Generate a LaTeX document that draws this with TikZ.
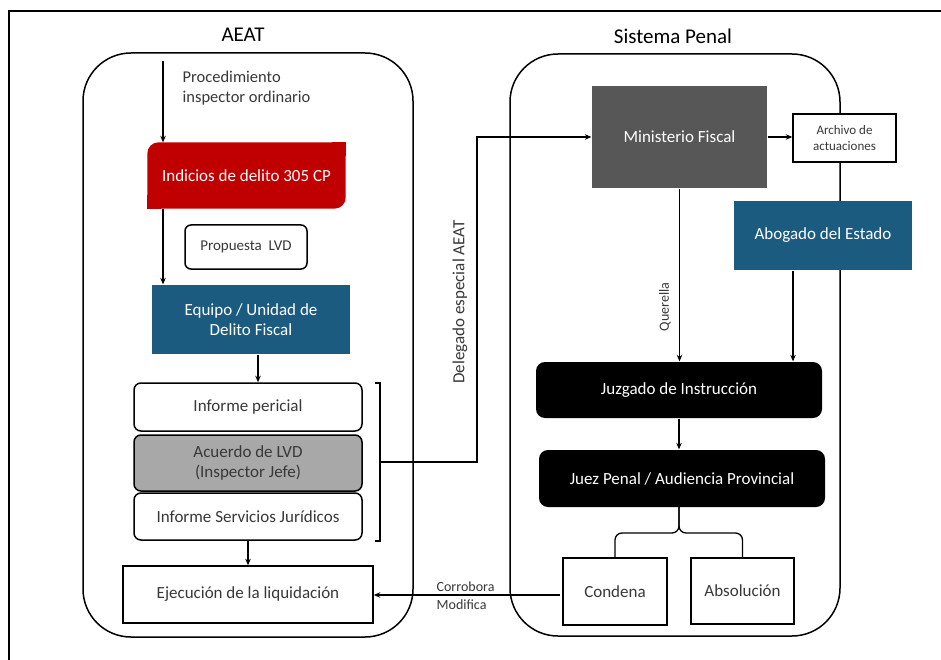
\documentclass[tikz,border=0pt]{standalone}
\usepackage{fontspec}
\setmainfont{Carlito}
\usetikzlibrary{arrows.meta,calc}
\definecolor{redbox}{HTML}{C00000}
\definecolor{bluebox}{HTML}{1B5B80}
\definecolor{darkbox}{HTML}{575757}
\definecolor{graybox}{HTML}{A8A8A8}
\definecolor{txt}{HTML}{383838}
\begin{document}
\begin{tikzpicture}[x=1pt,y=-1pt,
  line width=1.3pt,
  arr/.style={-{Stealth[length=6.5pt,width=5.5pt]}, line width=1.3pt},
  container/.style={draw, line width=1.5pt, rounded corners=48pt, minimum width=330pt},
  boxtext/.style={font=\fontsize{17}{20}\selectfont, align=center, inner sep=0pt},
  whitebox/.style={boxtext, draw, line width=1.5pt, fill=white, text=txt},
  title/.style={font=\fontsize{21}{24}\selectfont, text=black},
  small/.style={font=\fontsize{14}{17}\selectfont, text=txt}
]
\useasboundingbox (0,0) rectangle (941,660);
\fill[white] (0,0) rectangle (941,660);
% outer frame
\draw[line width=1.3pt] (9,660) -- (9,11) -- (941,11);

% containers
\node[container, minimum height=584pt] (aeat) at (248,345) {};
\node[container, minimum height=582pt] (penal) at (675,345) {};
\node[title] (taeat) at (243,35) {AEAT};
\node[title] (tpenal) at (673,36) {Sistema Penal};

% AEAT side
\coordinate (start) at (163,61);
\node[font=\fontsize{16.5}{20}\selectfont, text=txt, align=left, anchor=north west, inner sep=0pt] (proc) at (182,70) {Procedimiento\\inspector ordinario};
\node[inner sep=0pt, minimum width=197pt, minimum height=65pt] (ind) at (246.5,175.5) {};
\fill[redbox, rounded corners=11pt] (ind.north west) rectangle (ind.south east);
\fill[redbox] (ind.north east) rectangle ++(-14,14);
\fill[redbox] (ind.south west) rectangle ++(14,-14);
\node[boxtext, text=white] (indt) at (ind) {Indicios de delito 305 CP};
\node[whitebox, rounded corners=6pt, minimum width=122pt, minimum height=44pt, font=\fontsize{15}{18}\selectfont] (prop) at (246,247) {Propuesta\ \ LVD};
\node[boxtext, fill=bluebox, text=white, minimum width=198pt, minimum height=69pt] (eq) at (251,319.5) {Equipo / Unidad de\\Delito Fiscal};
\node[whitebox, rounded corners=7pt, minimum width=228pt, minimum height=48pt] (per) at (248,407) {Informe pericial};
\node[whitebox, fill=graybox, rounded corners=7pt, minimum width=228pt, minimum height=56pt] (acu) at (248,463) {Acuerdo de LVD\\(Inspector Jefe)};
\node[whitebox, rounded corners=7pt, minimum width=228pt, minimum height=47pt] (serv) at (248,516.5) {Informe Servicios Jurídicos};
\node[whitebox, minimum width=250pt, minimum height=57pt] (ejec) at (248,594.5) {Ejecución de la liquidación};

\draw[arr] (start) -- (start |- ind.north);
\draw[arr] (start |- ind.south) -- (start |- eq.north);
\coordinate (xeq) at (258,0);
\draw[arr] (eq.south -| xeq) -- (per.north -| xeq);
\draw[arr] (serv.south) -- (ejec.north);

% bracket and delegation
\coordinate (bt) at (380,383);
\coordinate (bb) at (380,541);
\coordinate (bm) at (380,462);
\coordinate (dl) at (477,462);
\draw (375,383) -- (bt) -- (bb) -- (375,541);

% Sistema penal side
\node[boxtext, fill=darkbox, text=white, minimum width=175pt, minimum height=102pt] (mf) at (679.5,137) {Ministerio Fiscal};
\node[boxtext, draw, line width=1.5pt, fill=white, text=txt, minimum width=103pt, minimum height=48pt, font=\fontsize{13}{16}\selectfont] (arch) at (844.5,138) {Archivo de\\actuaciones};
\node[boxtext, fill=bluebox, text=white, minimum width=178pt, minimum height=69pt] (abo) at (823,235.5) {Abogado del Estado};
\node[boxtext, fill=black, text=white, rounded corners=9pt, minimum width=286pt, minimum height=56pt] (juz) at (679,390) {Juzgado de Instrucción};
\node[boxtext, fill=black, text=white, rounded corners=9pt, minimum width=286pt, minimum height=57pt] (juez) at (682,478.5) {Juez Penal / Audiencia Provincial};
\node[whitebox, minimum width=104pt, minimum height=67pt] (cond) at (615,591.5) {Condena};
\node[whitebox, minimum width=103pt, minimum height=66pt] (abs) at (742.5,591) {Absolución};

\draw[arr] (bm) -- (dl) |- (mf.west);
\node[font=\fontsize{17}{20}\selectfont, text=txt, rotate=90, inner sep=0pt] (deleg) at (460,302) {Delegado especial AEAT};

\draw[arr] (mf.east) -- (mf.east -| arch.west);
\draw[arr] (mf.south) -- (mf.south |- juz.north);
\node[small, rotate=90, inner sep=0pt] (quer) at (665,307) {Querella};
\coordinate (xab) at (793,0);
\draw[arr] (abo.south -| xab) -- (juz.north -| xab);
\draw[arr] (juz.south) -- (juz.south |- juez.north);

% brace
\coordinate (bs) at (679,507);
\coordinate (bj) at (679,533);
\draw[rounded corners=7pt] (bs) -- (bj) -- (bj -| cond.north) -- (cond.north);
\draw[rounded corners=7pt] (bs) -- (bj) -- (bj -| abs.north) -- (abs.north);

% Condena -> Ejecucion
\coordinate (cw) at (560,595);
\draw[arr] (cw) -- (cw -| ejec.east);
\node[small, align=left, anchor=west, inner sep=0pt, font=\fontsize{14}{18}\selectfont] (corr) at (436,596) {Corrobora\\Modifica};
\end{tikzpicture}
\end{document}
